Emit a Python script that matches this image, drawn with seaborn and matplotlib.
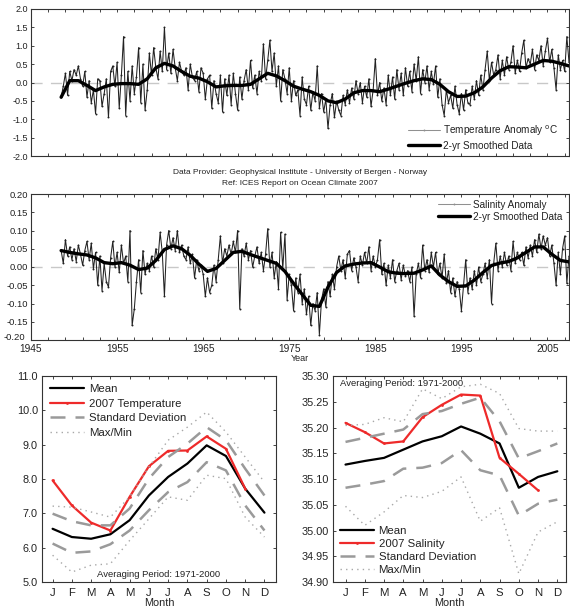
import numpy as np
import pandas as pd
import matplotlib
matplotlib.use("Agg")
import matplotlib.pyplot as plt
import matplotlib.transforms as mtrans
import seaborn as sns

# ---------------- data ----------------
# Quarterly temperature anomaly, starting 1948.5 (step 0.25 yr)
temp_anom = [
    -0.40, -0.10,
    0.25, -0.35, 0.30, 0.05,   0.35, 0.20, 0.45, 0.10,   -0.10, 0.30, -0.40, 0.05,
    -0.55, -0.20, -0.85, 0.10,   0.05, -0.65, -0.30, 0.10,   -0.95, 0.30, 0.45, -0.10,
    0.55, -0.70, 0.20, 1.25,   -0.90, 0.30, -0.50, 0.45,   -0.30, 0.15, 0.95, -0.55,
    0.50, -0.75, -0.20, 0.80,   0.20, 0.95, 0.40, 0.10,   0.85, 0.30, 1.50, 0.35,
    0.80, 0.25, 0.90, 0.40,   0.05, 0.55, 0.30, 0.20,   0.40, -0.20, 0.50, 0.15,
    0.05, 0.30, -0.25, 0.40,   0.25, -0.45, 0.10, 0.20,   -0.70, 0.05, -0.30, -0.55,
    0.20, -0.80, 0.10, -0.35,   0.20, -0.60, 0.25, -0.30,   -0.75, 0.15, -0.45, 0.05,
    0.35, -0.20, 0.60, -0.15,   0.20, -0.30, 0.30, 0.05,   1.05, 0.10, 0.60, 1.15,
    0.30, 0.80, -0.10, 0.45,   -0.50, 0.35, 0.10, -0.30,   0.40, -0.50, 0.05, -0.35,
    -0.20, -0.90, 0.15, -0.45,   -0.60, -0.10, -0.75, -0.25,   -0.50, 0.45, -0.70, -0.30,
    -0.80, -0.45, -1.25, -0.60,   -0.30, -0.95, -0.50, -0.75,   -0.90, -0.35, -0.60, -0.20,
    -0.55, -0.15, -0.45, 0.05,   -0.30, 0.00, -0.55, -0.10,   -0.40, 0.10, -0.65, -0.20,
    0.65, -0.35, 0.00, -0.50,   -0.15, -0.60, 0.20, -0.35,   0.15, -0.45, 0.35, -0.20,
    0.25, -0.35, 0.40, -0.10,   0.30, -0.25, 0.50, 0.05,   0.70, -0.30, 0.35, 0.00,
    0.45, -0.20, 0.30, -0.05,   0.45, -0.40, 0.10, -0.60,   -0.90, -0.20, -0.55, -0.35,
    -0.70, -0.10, -0.60, -0.85,   -0.30, -0.75, -0.20, -0.55,   -0.60, -0.10, -0.45, 0.05,
    -0.35, 0.20, -0.20, 0.35,   0.85, 0.05, 0.55, 0.20,   0.35, 0.75, 0.10, 0.60,
    0.20, 0.70, 0.35, 0.55,   1.00, 0.25, 0.60, 0.30,   0.80, 1.15, 0.40, 0.65,
    0.50, 0.90, 0.35, 0.75,   0.60, 1.00, 0.45, 0.85,   1.20, 0.55, 0.90, 0.40,
    -0.20, 0.75, 0.35, 0.60,
    0.30, 1.25, 0.55,
]
# Yearly 2-yr smoothed temperature, 1948.5 ... 2007.5
temp_smooth = [
    -0.40, 0.05, 0.05, -0.08, -0.22, -0.12, -0.05, -0.03, -0.03, -0.05,
    0.10, 0.40, 0.52, 0.45, 0.30, 0.17, 0.12, 0.02, -0.12, -0.09,
    -0.08, -0.08, -0.05, 0.10, 0.25, 0.18, 0.05, -0.10, -0.18, -0.25,
    -0.35, -0.50, -0.55, -0.45, -0.28, -0.22, -0.22, -0.25, -0.18, -0.10,
    -0.02, 0.05, 0.10, 0.08, -0.05, -0.25, -0.38, -0.37, -0.28, -0.12,
    0.12, 0.32, 0.43, 0.42, 0.40, 0.50, 0.60, 0.58, 0.52, 0.45,
]
# Quarterly salinity anomaly, starting 1948.5
sal_anom = [
    0.045, 0.010,
    0.075, 0.030, 0.055, 0.020,   0.050, 0.015, 0.060, 0.035,   0.005, 0.045, 0.070, 0.020,
    0.065, -0.005, 0.040, -0.050,   0.030, -0.065, 0.010, -0.040,   -0.055, 0.025, 0.070, 0.000,
    0.040, -0.015, 0.060, 0.010,   0.030, -0.040, 0.100, -0.160,   -0.115, -0.040, 0.020, -0.070,
    0.045, -0.020, 0.010, -0.010,   0.030, 0.000, 0.050, 0.020,   0.095, 0.040, -0.080, 0.060,
    0.100, 0.050, 0.080, 0.045,   0.100, 0.040, 0.060, 0.030,   0.020, 0.055, 0.010, 0.035,
    -0.030, 0.020, -0.010, 0.005,   -0.020, -0.080, -0.030, -0.070,   -0.050, 0.005, -0.040, 0.020,
    0.085, 0.010, 0.050, 0.030,   0.060, 0.035, 0.070, 0.040,   0.100, -0.115, 0.050, 0.030,
    0.065, 0.020, 0.045, 0.000,   0.030, 0.055, 0.010, 0.040,   -0.010, 0.035, 0.105, 0.000,
    0.040, -0.030, 0.015, -0.060,   0.095, -0.005, 0.090, -0.090,   -0.020, -0.050, -0.120, -0.030,
    -0.070, -0.020, -0.100, -0.060,   -0.130, -0.080, -0.160, -0.100,   -0.120, -0.070, -0.185, -0.090,
    -0.060, -0.110, -0.040, -0.080,   -0.020, -0.060, 0.000, 0.030,   -0.010, 0.020, -0.030, 0.035,
    0.045, -0.010, 0.025, 0.000,   -0.040, 0.030, 0.005, 0.040,   0.010, 0.055, -0.010, 0.030,
    0.000, 0.020, 0.075, -0.020,   0.010, -0.050, 0.005, -0.030,   0.020, -0.040, -0.010, 0.010,
    -0.035, 0.005, -0.025, -0.010,   -0.040, 0.000, -0.135, -0.020,   0.010, -0.030, 0.060, -0.010,
    0.020, -0.015, 0.040, 0.000,   0.040, -0.020, 0.010, -0.030,   0.035, -0.045, -0.010, -0.070,
    -0.030, -0.080, -0.040, -0.060,   -0.120, -0.050, 0.020, -0.070,   -0.030, -0.060, -0.010, -0.050,
    0.000, -0.040, -0.020, 0.010,   -0.030, 0.020, -0.100, 0.010,   0.065, -0.010, 0.030, 0.000,
    0.040, 0.005, 0.030, -0.010,   0.070, 0.010, 0.040, 0.020,   0.040, 0.005, 0.055, 0.025,
    0.060, 0.030, 0.075, 0.040,   0.090, 0.050, 0.085, 0.060,   0.080, 0.030, 0.060, 0.010,
    -0.050, 0.040, -0.020, 0.050,
    0.085, -0.045, 0.030,
]
sal_smooth = [
    0.045, 0.040, 0.036, 0.033, 0.025, 0.012, 0.009, 0.012, 0.005, -0.007,
    -0.003, 0.018, 0.048, 0.058, 0.050, 0.032, 0.008, -0.012, -0.004, 0.018,
    0.040, 0.043, 0.034, 0.026, 0.018, 0.010, -0.012, -0.045, -0.075, -0.105,
    -0.108, -0.055, -0.015, 0.003, 0.008, 0.011, 0.012, 0.000, -0.013, -0.017,
    -0.018, -0.017, -0.008, 0.003, -0.022, -0.040, -0.053, -0.052, -0.036, -0.015,
    0.004, 0.011, 0.015, 0.025, 0.040, 0.055, 0.055, 0.035, 0.018, 0.014,
]

months = ["J", "F", "M", "A", "M", "J", "J", "A", "S", "O", "N", "D"]

t_mean = [6.55, 6.31, 6.26, 6.39, 6.80, 7.52, 8.06, 8.45, 8.98, 8.67, 7.72, 7.02]
t_2007 = [7.96, 7.23, 6.73, 6.50, 7.48, 8.37, 8.82, 8.83, 9.24, 8.88, 7.72]
t_sd_hi = [6.99, 6.77, 6.65, 6.65, 7.14, 8.01, 8.64, 9.03, 9.51, 9.13, 8.30, 7.52]
t_sd_lo = [6.12, 5.85, 5.89, 6.10, 6.50, 7.09, 7.62, 7.91, 8.49, 8.25, 7.23, 6.50]
t_max = [7.21, 7.18, 7.04, 6.89, 7.48, 8.35, 9.13, 9.51, 9.95, 9.37, 8.64, 7.91]
t_min = [5.78, 5.29, 5.49, 5.53, 6.21, 6.84, 7.48, 7.38, 8.11, 8.01, 6.89, 6.31]

s_mean = [35.128, 35.135, 35.141, 35.157, 35.173, 35.183, 35.202, 35.188, 35.169, 35.083, 35.104, 35.115]
s_2007 = [35.209, 35.191, 35.169, 35.173, 35.220, 35.244, 35.264, 35.262, 35.141, 35.110, 35.078]
s_sd_hi = [35.172, 35.180, 35.188, 35.196, 35.226, 35.232, 35.246, 35.258, 35.212, 35.140, 35.154, 35.169]
s_sd_lo = [35.083, 35.089, 35.096, 35.120, 35.122, 35.131, 35.156, 35.117, 35.107, 35.029, 35.052, 35.060]
s_max = [35.204, 35.206, 35.219, 35.211, 35.275, 35.256, 35.279, 35.284, 35.266, 35.198, 35.193, 35.193]
s_min = [35.047, 35.010, 35.036, 35.068, 35.064, 35.076, 35.104, 35.018, 35.044, 34.916, 34.997, 35.017]

# ---------------- style ----------------
sns.set_style("ticks")
plt.rcParams['font.family'] = ['Liberation Sans', 'DejaVu Sans']
plt.rcParams['axes.linewidth'] = 0.8
plt.rcParams['axes.edgecolor'] = '#333333'

W, H = 570, 611
fig = plt.figure(figsize=(W / 100, H / 100), dpi=100)


def px_axes(left, top, right, bottom):
    return fig.add_axes([left / W, 1 - bottom / H, (right - left) / W, (bottom - top) / H])


NOISY = '#222222'
ZERO = '#c8c8c8'
TXT = '#222222'

# ---------- top: temperature anomaly ----------
ax1 = px_axes(31, 9, 569, 156)
tt = 1948.5 + 0.25 * np.arange(len(temp_anom))
ts = 1948.5 + np.arange(len(temp_smooth))
ax1.axhline(0, color=ZERO, lw=1.0, ls=(0, (8, 6)), zorder=0)
sns.lineplot(x=tt, y=temp_anom, ax=ax1, color=NOISY, lw=0.75, marker='o', markersize=1.4,
             markeredgewidth=0, label='Temperature Anomaly $^{\\mathrm{o}}$C', sort=False)
sns.lineplot(x=ts, y=temp_smooth, ax=ax1, color='black', lw=2.4, label='2-yr Smoothed Data', sort=False)
ax1.set_xlim(1945, 2007.5)
ax1.set_ylim(-2.0, 2.0)
ax1.set_yticks(np.arange(-2.0, 2.01, 0.5))
ax1.set_yticklabels([f"{v:.1f}" for v in np.arange(-2.0, 2.01, 0.5)])
ax1.set_xticks(np.arange(1945, 2008, 10))
ax1.set_xticks(np.arange(1945, 2008, 2), minor=True)
ax1.set_xticklabels([])
ax1.tick_params(axis='both', which='both', direction='in', top=True, right=True,
                length=2.5, width=0.6, labelsize=6.5, pad=2, labelcolor=TXT)
ax1.set_xlabel('')
leg1 = ax1.legend(loc='lower right', bbox_to_anchor=(0.99, 0.0), frameon=False, fontsize=7.2,
                  handlelength=3.2, handletextpad=0.3, labelspacing=0.3, borderaxespad=0.1)
leg1.get_lines()[0].set_color('#909090')
for t in leg1.get_texts():
    t.set_color(TXT)

fig.text(300 / W, 1 - 173 / H, 'Data Provider: Geophysical Institute - University of Bergen - Norway',
         ha='center', va='center', fontsize=6.0, color=TXT)
fig.text(300 / W, 1 - 183 / H, 'Ref: ICES Report on Ocean Climate 2007',
         ha='center', va='center', fontsize=6.0, color=TXT)

# ---------- middle: salinity anomaly ----------
ax2 = px_axes(31, 194, 569, 340)
st = 1948.5 + 0.25 * np.arange(len(sal_anom))
ss = 1948.5 + np.arange(len(sal_smooth))
ax2.axhline(0, color=ZERO, lw=1.0, ls=(0, (8, 6)), zorder=0)
sns.lineplot(x=st, y=sal_anom, ax=ax2, color=NOISY, lw=0.75, marker='o', markersize=1.4,
             markeredgewidth=0, label='Salinity Anomaly', sort=False)
sns.lineplot(x=ss, y=sal_smooth, ax=ax2, color='black', lw=2.4, label='2-yr Smoothed Data', sort=False)
ax2.set_xlim(1945, 2007.5)
ax2.set_ylim(-0.20, 0.20)
yt = np.arange(-0.20, 0.201, 0.05)
ax2.set_yticks(yt)
ax2.set_yticklabels([f"{v:.2f}" if abs(v) > 1e-9 else "0.00" for v in yt])
ax2.set_xticks(np.arange(1945, 2008, 10))
ax2.set_xticks(np.arange(1945, 2008, 2), minor=True)
ax2.tick_params(axis='both', which='both', direction='in', top=True, right=True,
                length=2.5, width=0.6, labelsize=6.8, pad=2, labelcolor=TXT)
ax2.tick_params(axis='x', labelsize=7.3, pad=3)
ax2.set_xlabel('Year', fontsize=6.5, labelpad=0, color=TXT)
# lift the lowest y label a little so it clears the "1945" label
lab0 = ax2.get_yticklabels()[0]
lab0.set_transform(lab0.get_transform() + mtrans.ScaledTranslation(-3 / 100, 3 / 100, fig.dpi_scale_trans))
leg2 = ax2.legend(loc='upper right', bbox_to_anchor=(0.998, 1.0), frameon=False, fontsize=7.2,
                  handlelength=3.2, handletextpad=0.3, labelspacing=0.2, borderaxespad=0.2)
leg2.get_lines()[0].set_color('#909090')
for t in leg2.get_texts():
    t.set_color(TXT)

# ---------- bottom-left: monthly temperature ----------
SDC = '#9a9a9a'
MMC = '#a8a8a8'
RED = '#ee2a2a'
x12 = np.arange(12)
x11 = np.arange(11)

ax3 = px_axes(42, 376, 276, 582)
sns.lineplot(x=x12, y=t_mean, ax=ax3, color='black', lw=1.6, label='Mean')
sns.lineplot(x=x11, y=t_2007, ax=ax3, color=RED, lw=1.6, marker='o', markersize=2,
             markeredgewidth=0, label='2007 Temperature')
sns.lineplot(x=x12, y=t_sd_hi, ax=ax3, color=SDC, lw=1.8, linestyle=(0, (6, 4)), label='Standard Deviation')
sns.lineplot(x=x12, y=t_sd_lo, ax=ax3, color=SDC, lw=1.8, linestyle=(0, (6, 4)))
sns.lineplot(x=x12, y=t_max, ax=ax3, color=MMC, lw=1.0, linestyle=(0, (1, 3)), label='Max/Min')
sns.lineplot(x=x12, y=t_min, ax=ax3, color=MMC, lw=1.0, linestyle=(0, (1, 3)))
ax3.set_xlim(-0.55, 11.6)
ax3.set_ylim(5.0, 11.0)
ax3.set_yticks(np.arange(5, 11.01, 1))
ax3.set_yticklabels([f"{v:.1f}" for v in np.arange(5, 11.01, 1)])
ax3.set_xticks(x12)
ax3.set_xticklabels(months)
ax3.tick_params(axis='both', direction='in', top=True, right=True, length=2, width=0.6,
                labelsize=7.8, pad=3, labelcolor=TXT)
ax3.tick_params(axis='x', labelsize=8.2, pad=4)
ax3.set_xlabel('Month', fontsize=7.8, labelpad=0, color=TXT)
ax3.text(0.5, 0.035, 'Averaging Period: 1971-2000', transform=ax3.transAxes, ha='center',
         va='center', fontsize=6.8, color=TXT)
lg3 = ax3.legend(loc='upper left', frameon=False, fontsize=8.2, handlelength=3.0, handletextpad=0.4,
                 labelspacing=0.4, borderaxespad=0.3)
for t in lg3.get_texts():
    t.set_color(TXT)

# ---------- bottom-right: monthly salinity ----------
ax4 = px_axes(333, 376, 566, 582)
sns.lineplot(x=x12, y=s_mean, ax=ax4, color='black', lw=1.6, label='Mean')
sns.lineplot(x=x11, y=s_2007, ax=ax4, color=RED, lw=1.6, marker='o', markersize=2,
             markeredgewidth=0, label='2007 Salinity')
sns.lineplot(x=x12, y=s_sd_hi, ax=ax4, color=SDC, lw=1.8, linestyle=(0, (6, 4)), label='Standard Deviation')
sns.lineplot(x=x12, y=s_sd_lo, ax=ax4, color=SDC, lw=1.8, linestyle=(0, (6, 4)))
sns.lineplot(x=x12, y=s_max, ax=ax4, color=MMC, lw=1.0, linestyle=(0, (1, 3)), label='Max/Min')
sns.lineplot(x=x12, y=s_min, ax=ax4, color=MMC, lw=1.0, linestyle=(0, (1, 3)))
ax4.set_xlim(-0.65, 11.45)
ax4.set_ylim(34.90, 35.30)
syt = np.arange(34.90, 35.301, 0.05)
ax4.set_yticks(syt)
ax4.set_yticklabels([f"{v:.2f}" for v in syt])
ax4.set_xticks(x12)
ax4.set_xticklabels(months)
ax4.tick_params(axis='both', direction='in', top=True, right=True, length=2, width=0.6,
                labelsize=7.8, pad=3, labelcolor=TXT)
ax4.tick_params(axis='x', labelsize=8.2, pad=4)
ax4.set_xlabel('Month', fontsize=7.8, labelpad=0, color=TXT)
ax4.text(0.03, 0.965, 'Averaging Period: 1971-2000', transform=ax4.transAxes, ha='left',
         va='center', fontsize=6.8, color=TXT)
lg4 = ax4.legend(loc='lower left', frameon=False, fontsize=8.2, handlelength=3.0, handletextpad=0.4,
                 labelspacing=0.28, borderaxespad=0.2)
for t in lg4.get_texts():
    t.set_color(TXT)

fig.savefig('out.png', dpi=100)
